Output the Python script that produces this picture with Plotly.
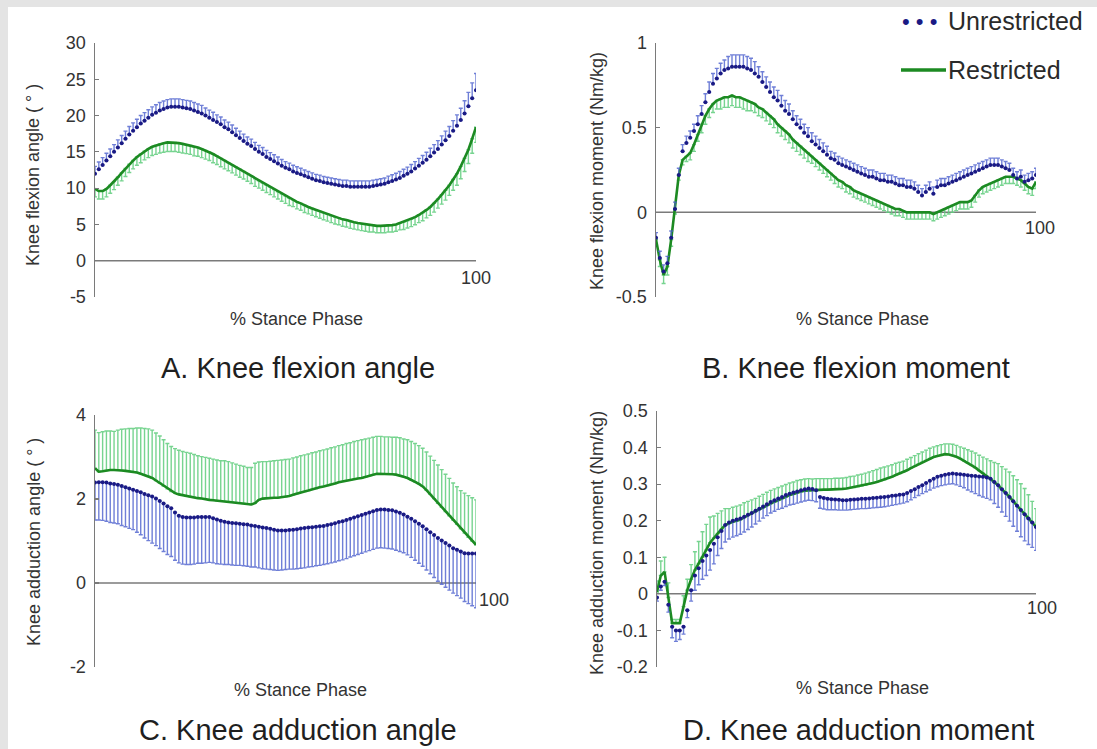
import plotly.graph_objects as go

# ---------------- data ----------------
pct = list(range(101))

# A. Knee flexion angle (deg)
fa_unres = [12.0, 12.6, 13.2, 13.8, 14.4, 15.0, 15.6, 16.2, 16.8, 17.4, 17.9,
            18.4, 18.9, 19.3, 19.7, 20.1, 20.4, 20.7, 20.9, 21.1, 21.2,
            21.2, 21.2, 21.1, 21.0, 20.9, 20.7, 20.5, 20.3, 20.0, 19.7,
            19.4, 19.1, 18.8, 18.4, 18.1, 17.7, 17.3, 16.9, 16.5, 16.1,
            15.8, 15.4, 15.0, 14.7, 14.3, 14.0, 13.7, 13.4, 13.1, 12.8,
            12.6, 12.3, 12.1, 11.9, 11.7, 11.5, 11.3, 11.1, 11.0, 10.8,
            10.7, 10.6, 10.5, 10.4, 10.3, 10.3, 10.2, 10.2, 10.2, 10.2,
            10.2, 10.2, 10.3, 10.4, 10.5, 10.6, 10.8, 11.0, 11.2, 11.4,
            11.7, 12.0, 12.3, 12.7, 13.1, 13.5, 13.9, 14.4, 14.9, 15.4,
            16.0, 16.6, 17.2, 17.9, 18.6, 19.4, 20.3, 21.3, 22.4, 23.5]
fa_unres_sd = [1.0, 1.0, 1.0, 1.0, 1.0, 1.0, 1.05, 1.05, 1.05, 1.1, 1.1,
               1.1, 1.1, 1.1, 1.1, 1.1, 1.1, 1.1, 1.1, 1.1, 1.1,
               1.1, 1.1, 1.1, 1.1, 1.1, 1.1, 1.1, 1.1, 1.05, 1.05,
               1.05, 1.0, 1.0, 1.0, 1.0, 1.0, 0.95, 0.95, 0.95, 0.95,
               0.95, 0.9, 0.9, 0.9, 0.9, 0.9, 0.9, 0.9, 0.85, 0.85,
               0.85, 0.85, 0.85, 0.85, 0.8, 0.8, 0.8, 0.8, 0.8, 0.8,
               0.8, 0.8, 0.8, 0.8, 0.8, 0.8, 0.8, 0.8, 0.8, 0.8,
               0.8, 0.8, 0.8, 0.8, 0.8, 0.8, 0.85, 0.85, 0.85, 0.9,
               0.9, 0.9, 0.95, 0.95, 1.0, 1.0, 1.05, 1.1, 1.1, 1.15,
               1.2, 1.25, 1.3, 1.4, 1.5, 1.6, 1.75, 1.9, 2.1, 2.3]
fa_res = [9.9, 9.6, 9.6, 9.9, 10.4, 10.9, 11.5, 12.1, 12.7, 13.3, 13.8,
          14.3, 14.7, 15.1, 15.4, 15.7, 15.9, 16.1, 16.2, 16.3, 16.3,
          16.3, 16.2, 16.1, 16.0, 15.9, 15.7, 15.6, 15.4, 15.2, 15.0,
          14.7, 14.4, 14.1, 13.8, 13.5, 13.2, 12.9, 12.6, 12.3, 12.0,
          11.7, 11.3, 11.0, 10.7, 10.4, 10.1, 9.8, 9.5, 9.2, 8.9,
          8.6, 8.4, 8.1, 7.9, 7.6, 7.4, 7.2, 7.0, 6.8, 6.6,
          6.4, 6.2, 6.0, 5.9, 5.7, 5.6, 5.4, 5.3, 5.2, 5.1,
          5.0, 4.9, 4.9, 4.8, 4.8, 4.8, 4.9, 4.9, 5.0, 5.2,
          5.3, 5.5, 5.7, 6.0, 6.3, 6.6, 7.0, 7.4, 7.9, 8.5,
          9.1, 9.7, 10.4, 11.2, 12.0, 13.0, 14.1, 15.3, 16.8, 18.4]
fa_res_sd = [1.1, 1.1, 1.1, 1.1, 1.1, 1.1, 1.1, 1.1, 1.1, 1.15, 1.15,
             1.15, 1.2, 1.2, 1.2, 1.2, 1.25, 1.25, 1.25, 1.25, 1.25,
             1.25, 1.25, 1.25, 1.25, 1.25, 1.25, 1.2, 1.2, 1.2, 1.2,
             1.2, 1.15, 1.15, 1.15, 1.1, 1.1, 1.1, 1.1, 1.05, 1.05,
             1.05, 1.05, 1.0, 1.0, 1.0, 1.0, 1.0, 1.0, 1.0, 1.0,
             1.0, 0.95, 0.95, 0.95, 0.95, 0.95, 0.95, 0.95, 0.95, 0.95,
             0.95, 0.95, 0.95, 0.95, 0.95, 0.95, 0.95, 0.95, 0.95, 0.95,
             0.95, 0.95, 0.95, 0.95, 0.95, 0.95, 0.95, 0.95, 0.95, 0.95,
             1.0, 1.0, 1.0, 1.05, 1.05, 1.1, 1.1, 1.15, 1.2, 1.25,
             1.3, 1.35, 1.4, 1.5, 1.6, 1.7, 1.8, 1.9, 2.0, 2.1]

# B. Knee flexion moment (Nm/kg)
fm_unres = [-0.15, -0.27, -0.35, -0.30, -0.15, 0.02, 0.22, 0.36, 0.41, 0.44, 0.48,
            0.52, 0.58, 0.65, 0.71, 0.76, 0.79, 0.82, 0.84, 0.85, 0.86,
            0.86, 0.86, 0.86, 0.85, 0.84, 0.82, 0.80, 0.77, 0.74, 0.71,
            0.68, 0.66, 0.63, 0.60, 0.58, 0.55, 0.52, 0.50, 0.47, 0.45,
            0.42, 0.40, 0.38, 0.36, 0.34, 0.32, 0.31, 0.29, 0.28, 0.27,
            0.26, 0.25, 0.24, 0.23, 0.22, 0.21, 0.21, 0.20, 0.19, 0.19,
            0.18, 0.18, 0.17, 0.16, 0.16, 0.15, 0.15, 0.14, 0.12, 0.10,
            0.12, 0.14, 0.11, 0.15, 0.16, 0.16, 0.17, 0.18, 0.19, 0.20,
            0.21, 0.22, 0.23, 0.24, 0.25, 0.26, 0.27, 0.28, 0.28, 0.28,
            0.27, 0.26, 0.25, 0.22, 0.20, 0.21, 0.18, 0.19, 0.20, 0.22]
fm_unres_sd = [0.03, 0.04, 0.04, 0.04, 0.04, 0.04, 0.04, 0.04, 0.04, 0.04, 0.04,
               0.05, 0.05, 0.05, 0.06, 0.06, 0.06, 0.06, 0.06, 0.07, 0.07,
               0.07, 0.07, 0.07, 0.07, 0.07, 0.07, 0.06, 0.06, 0.06, 0.06,
               0.06, 0.06, 0.06, 0.06, 0.06, 0.05, 0.05, 0.05, 0.05, 0.05,
               0.05, 0.05, 0.05, 0.05, 0.05, 0.04, 0.04, 0.04, 0.04, 0.04,
               0.04, 0.04, 0.04, 0.04, 0.04, 0.04, 0.04, 0.04, 0.04, 0.04,
               0.04, 0.04, 0.04, 0.04, 0.04, 0.04, 0.04, 0.04, 0.04, 0.04,
               0.04, 0.04, 0.04, 0.04, 0.04, 0.04, 0.04, 0.04, 0.04, 0.04,
               0.04, 0.04, 0.04, 0.04, 0.04, 0.04, 0.04, 0.04, 0.04, 0.04,
               0.04, 0.04, 0.04, 0.04, 0.04, 0.04, 0.04, 0.04, 0.04, 0.04]
fm_res = [-0.16, -0.28, -0.37, -0.32, -0.16, 0.02, 0.22, 0.31, 0.33, 0.35, 0.40,
          0.46, 0.52, 0.57, 0.61, 0.64, 0.66, 0.67, 0.68, 0.68, 0.69,
          0.68, 0.68, 0.67, 0.66, 0.65, 0.64, 0.62, 0.61, 0.59, 0.57,
          0.55, 0.52, 0.50, 0.48, 0.46, 0.43, 0.41, 0.39, 0.37, 0.35,
          0.33, 0.31, 0.29, 0.27, 0.25, 0.23, 0.21, 0.19, 0.18, 0.16,
          0.15, 0.13, 0.12, 0.11, 0.10, 0.09, 0.08, 0.07, 0.06, 0.05,
          0.04, 0.03, 0.02, 0.02, 0.01, 0.00, 0.00, 0.00, 0.00, 0.00,
          0.00, 0.00, -0.01, 0.00, 0.01, 0.02, 0.03, 0.04, 0.05, 0.06,
          0.06, 0.06, 0.07, 0.10, 0.13, 0.15, 0.16, 0.17, 0.18, 0.19,
          0.20, 0.21, 0.21, 0.21, 0.20, 0.19, 0.17, 0.15, 0.14, 0.18]
fm_res_sd = [0.03, 0.04, 0.05, 0.05, 0.04, 0.03, 0.03, 0.03, 0.03, 0.04, 0.04,
             0.04, 0.05, 0.05, 0.05, 0.05, 0.05, 0.06, 0.06, 0.06, 0.06,
             0.06, 0.06, 0.06, 0.06, 0.05, 0.05, 0.05, 0.05, 0.05, 0.05,
             0.05, 0.05, 0.05, 0.05, 0.05, 0.05, 0.05, 0.05, 0.05, 0.05,
             0.04, 0.04, 0.04, 0.04, 0.04, 0.04, 0.04, 0.04, 0.04, 0.04,
             0.04, 0.04, 0.04, 0.04, 0.04, 0.04, 0.04, 0.04, 0.04, 0.04,
             0.04, 0.04, 0.04, 0.04, 0.04, 0.04, 0.04, 0.04, 0.04, 0.04,
             0.04, 0.04, 0.04, 0.04, 0.04, 0.04, 0.04, 0.04, 0.04, 0.04,
             0.04, 0.04, 0.04, 0.04, 0.04, 0.04, 0.04, 0.04, 0.04, 0.04,
             0.04, 0.04, 0.04, 0.04, 0.04, 0.04, 0.04, 0.04, 0.04, 0.04]

# C. Knee adduction angle (deg)
aa_unres = [2.39, 2.40, 2.40, 2.39, 2.37, 2.36, 2.34, 2.31, 2.28, 2.25, 2.22,
            2.19, 2.16, 2.12, 2.09, 2.06, 2.01, 1.95, 1.89, 1.83, 1.78,
            1.68, 1.60, 1.57, 1.56, 1.56, 1.56, 1.57, 1.57, 1.57, 1.57,
            1.54, 1.51, 1.48, 1.46, 1.44, 1.43, 1.42, 1.41, 1.40, 1.39,
            1.37, 1.36, 1.34, 1.32, 1.31, 1.29, 1.27, 1.25, 1.25, 1.25,
            1.26, 1.27, 1.28, 1.30, 1.31, 1.32, 1.33, 1.34, 1.35, 1.36,
            1.38, 1.40, 1.42, 1.45, 1.47, 1.50, 1.53, 1.56, 1.59, 1.62,
            1.65, 1.68, 1.71, 1.74, 1.75, 1.75, 1.74, 1.73, 1.70, 1.67,
            1.63, 1.58, 1.53, 1.47, 1.41, 1.35, 1.28, 1.21, 1.14, 1.07,
            1.01, 0.95, 0.89, 0.83, 0.79, 0.75, 0.71, 0.70, 0.70, 0.70]
aa_unres_sd = [0.89, 0.90, 0.91, 0.92, 0.93, 0.93, 0.93, 0.94, 0.94, 0.95, 0.95,
               0.98, 1.01, 1.05, 1.08, 1.11, 1.12, 1.13, 1.14, 1.15, 1.15,
               1.14, 1.12, 1.12, 1.12, 1.12, 1.11, 1.10, 1.10, 1.09, 1.08,
               1.06, 1.05, 1.03, 1.02, 1.00, 1.00, 1.00, 0.99, 0.99, 0.99,
               0.99, 0.98, 0.98, 0.98, 0.98, 0.97, 0.96, 0.95, 0.94, 0.93,
               0.93, 0.94, 0.94, 0.95, 0.95, 0.94, 0.94, 0.93, 0.93, 0.92,
               0.92, 0.92, 0.92, 0.92, 0.92, 0.92, 0.91, 0.91, 0.91, 0.91,
               0.91, 0.91, 0.91, 0.91, 0.91, 0.92, 0.92, 0.92, 0.92, 0.92,
               0.91, 0.91, 0.92, 0.93, 0.94, 0.95, 0.97, 0.99, 1.01, 1.03,
               1.04, 1.05, 1.06, 1.07, 1.09, 1.11, 1.15, 1.19, 1.24, 1.29]
aa_res = [2.73, 2.65, 2.66, 2.68, 2.69, 2.69, 2.69, 2.68, 2.67, 2.66, 2.65,
          2.63, 2.60, 2.57, 2.54, 2.50, 2.44, 2.38, 2.31, 2.24, 2.18,
          2.14, 2.11, 2.09, 2.07, 2.06, 2.04, 2.02, 2.01, 1.99, 1.98,
          1.97, 1.96, 1.95, 1.95, 1.94, 1.93, 1.92, 1.91, 1.90, 1.88,
          1.87, 1.90, 1.98, 2.01, 2.02, 2.02, 2.03, 2.03, 2.04, 2.05,
          2.07, 2.10, 2.13, 2.16, 2.18, 2.20, 2.23, 2.25, 2.28, 2.30,
          2.32, 2.35, 2.37, 2.40, 2.42, 2.44, 2.45, 2.47, 2.49, 2.50,
          2.53, 2.55, 2.58, 2.60, 2.60, 2.60, 2.60, 2.59, 2.58, 2.56,
          2.53, 2.50, 2.46, 2.41, 2.36, 2.30, 2.21, 2.11, 2.01, 1.90,
          1.80, 1.70, 1.60, 1.50, 1.40, 1.29, 1.19, 1.09, 1.00, 0.91]
aa_res_sd = [0.91, 0.93, 0.94, 0.94, 0.93, 0.92, 0.95, 0.98, 1.00, 1.02, 1.03,
             1.06, 1.09, 1.11, 1.13, 1.14, 1.13, 1.12, 1.10, 1.08, 1.07,
             1.06, 1.05, 1.04, 1.04, 1.03, 1.02, 1.01, 1.00, 1.00, 0.99,
             0.98, 0.97, 0.96, 0.96, 0.95, 0.93, 0.91, 0.89, 0.88, 0.87,
             0.88, 0.95, 0.90, 0.88, 0.87, 0.88, 0.88, 0.89, 0.89, 0.89,
             0.88, 0.88, 0.87, 0.87, 0.87, 0.87, 0.87, 0.87, 0.87, 0.87,
             0.87, 0.87, 0.87, 0.87, 0.87, 0.88, 0.89, 0.90, 0.90, 0.91,
             0.90, 0.90, 0.89, 0.89, 0.89, 0.88, 0.88, 0.88, 0.89, 0.90,
             0.90, 0.91, 0.91, 0.91, 0.91, 0.91, 0.91, 0.91, 0.91, 0.91,
             0.90, 0.89, 0.89, 0.88, 0.89, 0.91, 0.95, 0.99, 1.03, 1.07]

# D. Knee adduction moment (Nm/kg)
am_unres = [-0.01, 0.02, 0.033, -0.03, -0.09, -0.10, -0.10, -0.09, -0.045, 0.01, 0.05,
            0.07, 0.09, 0.105, 0.12, 0.137, 0.155, 0.172, 0.188, 0.195, 0.200,
            0.203, 0.206, 0.211, 0.216, 0.221, 0.227, 0.233, 0.239, 0.245, 0.251,
            0.256, 0.261, 0.265, 0.270, 0.274, 0.277, 0.280, 0.283, 0.286, 0.288,
            0.287, 0.283, 0.265, 0.262, 0.260, 0.259, 0.258, 0.257, 0.256, 0.256,
            0.257, 0.258, 0.259, 0.260, 0.260, 0.261, 0.262, 0.263, 0.264, 0.265,
            0.266, 0.268, 0.269, 0.271, 0.272, 0.276, 0.281, 0.286, 0.292, 0.297,
            0.303, 0.309, 0.315, 0.320, 0.323, 0.326, 0.328, 0.329, 0.328, 0.327,
            0.326, 0.324, 0.323, 0.322, 0.321, 0.320, 0.318, 0.315, 0.306, 0.297,
            0.286, 0.276, 0.265, 0.253, 0.241, 0.229, 0.218, 0.206, 0.195, 0.183]
am_unres_sd = [0.01, 0.01, 0.01, 0.02, 0.03, 0.03, 0.025, 0.02, 0.02, 0.03, 0.04,
               0.045, 0.05, 0.055, 0.055, 0.055, 0.05, 0.048, 0.046, 0.045, 0.045,
               0.044, 0.043, 0.042, 0.040, 0.038, 0.036, 0.034, 0.032, 0.031, 0.030,
               0.030, 0.030, 0.031, 0.031, 0.031, 0.032, 0.032, 0.032, 0.032, 0.032,
               0.032, 0.031, 0.031, 0.030, 0.030, 0.029, 0.028, 0.028, 0.027, 0.027,
               0.027, 0.027, 0.027, 0.027, 0.027, 0.027, 0.027, 0.027, 0.027, 0.027,
               0.026, 0.026, 0.025, 0.025, 0.024, 0.024, 0.024, 0.023, 0.023, 0.023,
               0.024, 0.025, 0.026, 0.027, 0.027, 0.028, 0.028, 0.028, 0.030, 0.033,
               0.036, 0.040, 0.044, 0.048, 0.052, 0.055, 0.057, 0.058, 0.059, 0.060,
               0.062, 0.064, 0.066, 0.068, 0.070, 0.073, 0.073, 0.071, 0.068, 0.064]
am_res = [0.005, 0.05, 0.06, -0.01, -0.08, -0.08, -0.08, -0.035, 0.01, 0.04, 0.065,
          0.083, 0.10, 0.12, 0.14, 0.153, 0.165, 0.177, 0.188, 0.193, 0.197,
          0.200, 0.203, 0.209, 0.215, 0.220, 0.225, 0.231, 0.236, 0.242, 0.247,
          0.252, 0.256, 0.261, 0.265, 0.270, 0.273, 0.277, 0.280, 0.282, 0.283,
          0.283, 0.284, 0.284, 0.285, 0.285, 0.285, 0.286, 0.286, 0.287, 0.288,
          0.290, 0.291, 0.293, 0.295, 0.297, 0.300, 0.303, 0.306, 0.309, 0.312,
          0.316, 0.320, 0.325, 0.329, 0.333, 0.338, 0.344, 0.349, 0.355, 0.360,
          0.365, 0.370, 0.374, 0.377, 0.380, 0.382, 0.381, 0.379, 0.375, 0.370,
          0.364, 0.358, 0.352, 0.345, 0.337, 0.330, 0.322, 0.314, 0.305, 0.297,
          0.286, 0.276, 0.265, 0.253, 0.241, 0.229, 0.218, 0.206, 0.195, 0.183]
am_res_sd = [0.03, 0.04, 0.04, 0.04, 0.01, 0.01, 0.01, 0.03, 0.03, 0.04, 0.05,
             0.06, 0.07, 0.07, 0.07, 0.06, 0.055, 0.05, 0.045, 0.04, 0.04,
             0.04, 0.04, 0.04, 0.038, 0.037, 0.036, 0.036, 0.036, 0.036, 0.036,
             0.035, 0.035, 0.034, 0.034, 0.033, 0.033, 0.033, 0.032, 0.032, 0.032,
             0.031, 0.031, 0.031, 0.030, 0.030, 0.030, 0.030, 0.030, 0.030, 0.030,
             0.031, 0.031, 0.032, 0.032, 0.033, 0.033, 0.034, 0.034, 0.035, 0.035,
             0.034, 0.033, 0.032, 0.031, 0.030, 0.030, 0.029, 0.029, 0.028, 0.028,
             0.028, 0.028, 0.028, 0.028, 0.028, 0.028, 0.029, 0.030, 0.031, 0.032,
             0.034, 0.036, 0.038, 0.040, 0.042, 0.044, 0.047, 0.050, 0.054, 0.059,
             0.062, 0.065, 0.068, 0.070, 0.071, 0.072, 0.070, 0.065, 0.058, 0.050]

# tick labels
ticks_a = [-5, 0, 5, 10, 15, 20, 25, 30]
ticks_b = [-0.5, 0, 0.5, 1]
ticks_c = [-2, 0, 2, 4]
ticks_d = [-0.2, -0.1, 0, 0.1, 0.2, 0.3, 0.4, 0.5]
ticktext_a = ["-5", "0", "5", "10", "15", "20", "25", "30"]
ticktext_b = ["-0.5", "0", "0.5", "1"]
ticktext_c = ["-2", "0", "2", "4"]
ticktext_d = ["-0.2", "-0.1", "0", "0.1", "0.2", "0.3", "0.4", "0.5"]

# ---------------- styling / layout ----------------
W, H = 1097, 749
FONT = "Liberation Sans, Arial, sans-serif"
NAVY = "#1a1a84"
BLUE_BAR = "rgba(75,95,205,0.8)"
GREEN = "#1c8a22"
GREEN_BAR = "rgba(95,205,125,0.85)"
AXIS = "#7a7a7a"
TXT = "#333333"


def fx(p):
    return p / W


def fy(p):
    return 1 - p / H


panels = [
    dict(n="", x0=95, x1=476, ytop=43, ybot=297, rng=[-5, 30], tv=ticks_a, tt=ticktext_a,
         unres=fa_unres, unres_sd=fa_unres_sd, res=fa_res, res_sd=fa_res_sd,
         unres_up=True, res_up=False,
         ytitle="Knee flexion angle ( \u00b0 )", yt_x=33, yt_y=175,
         xt_x=296, xt_y=319, pt="A. Knee flexion angle", pt_x=298, pt_y=368,
         l100=(0, -17)),
    dict(n="2", x0=656, x1=1036, ytop=43, ybot=297, rng=[-0.5, 1], tv=ticks_b, tt=ticktext_b,
         unres=fm_unres, unres_sd=fm_unres_sd, res=fm_res, res_sd=fm_res_sd,
         unres_up=True, res_up=False,
         ytitle="Knee flexion moment (Nm/kg)", yt_x=597, yt_y=171,
         xt_x=862, xt_y=319, pt="B. Knee flexion moment", pt_x=856, pt_y=368,
         l100=(4, -16)),
    dict(n="3", x0=95, x1=476, ytop=415, ybot=667, rng=[-2, 4], tv=ticks_c, tt=ticktext_c,
         unres=aa_unres, unres_sd=aa_unres_sd, res=aa_res, res_sd=aa_res_sd,
         unres_up=False, res_up=True,
         ytitle="Knee adduction angle ( \u00b0 )", yt_x=34, yt_y=542,
         xt_x=300, xt_y=690, pt="C. Knee adduction angle", pt_x=298, pt_y=730,
         l100=(18, -17)),
    dict(n="4", x0=657, x1=1036, ytop=411, ybot=667, rng=[-0.2, 0.5], tv=ticks_d, tt=ticktext_d,
         unres=am_unres, unres_sd=am_unres_sd, res=am_res, res_sd=am_res_sd,
         unres_up=False, res_up=True,
         ytitle="Knee adduction moment (Nm/kg)", yt_x=597, yt_y=543,
         xt_x=862, xt_y=688, pt="D. Knee adduction moment", pt_x=858, pt_y=730,
         l100=(6, -14)),
]

fig = go.Figure()
layout = dict(
    width=W, height=H, autosize=False, margin=dict(l=0, r=0, t=0, b=0, pad=0),
    paper_bgcolor="white", plot_bgcolor="white", showlegend=False,
    font=dict(family=FONT, color=TXT),
)
annotations = []
shapes = [
    dict(type="rect", xref="paper", yref="paper", x0=0, x1=1, y0=fy(7), y1=1,
         fillcolor="#e4e4e4", line=dict(width=0), layer="below"),
    dict(type="rect", xref="paper", yref="paper", x0=0, x1=fx(8), y0=0, y1=1,
         fillcolor="#e4e4e4", line=dict(width=0), layer="below"),
]

for p in panels:
    n = p["n"]
    xa, ya = "x" + n, "y" + n
    zeros = [0 for _ in pct]

    def err(sd, up, color):
        return dict(type="data", symmetric=False,
                    array=sd if up else zeros,
                    arrayminus=zeros if up else sd,
                    color=color, thickness=1.4, width=2)

    # restricted (green line + one-sided SD)
    fig.add_trace(go.Scatter(
        x=pct, y=p["res"], xaxis=xa, yaxis=ya, mode="lines",
        line=dict(color=GREEN, width=2.6),
        error_y=err(p["res_sd"], p["res_up"], GREEN_BAR),
        name="Restricted", hoverinfo="skip"))
    # unrestricted (navy dots + one-sided SD)
    fig.add_trace(go.Scatter(
        x=pct, y=p["unres"], xaxis=xa, yaxis=ya, mode="markers",
        marker=dict(color=NAVY, size=4),
        error_y=err(p["unres_sd"], p["unres_up"], BLUE_BAR),
        name="Unrestricted", hoverinfo="skip"))

    key_x = "xaxis" + n
    key_y = "yaxis" + n
    layout[key_x] = dict(domain=[fx(p["x0"]), fx(p["x1"])], range=[0, 100],
                         anchor=ya, visible=False, fixedrange=True)
    layout[key_y] = dict(domain=[fy(p["ybot"]), fy(p["ytop"])], range=p["rng"],
                         anchor=xa, showgrid=False, zeroline=False, automargin=False,
                         showline=True, linecolor=AXIS, linewidth=1.5,
                         ticks="inside", ticklen=4, tickwidth=1.2, tickcolor=AXIS,
                         tickvals=p["tv"], ticktext=p["tt"],
                         tickfont=dict(size=18, color=TXT, family=FONT),
                         ticklabelstandoff=4, fixedrange=True)
    # zero line (x axis)
    shapes.append(dict(type="line", xref=xa, yref=ya, x0=0, x1=100, y0=0, y1=0,
                       line=dict(color=AXIS, width=1.5), layer="below"))
    # "100" label at end of x axis
    annotations.append(dict(text="100", xref=xa, yref=ya, x=100, y=0,
                            xshift=p["l100"][0], yshift=p["l100"][1],
                            xanchor="center", yanchor="middle", showarrow=False,
                            font=dict(size=18, color=TXT, family=FONT)))
    # y axis title
    annotations.append(dict(text=p["ytitle"], xref="paper", yref="paper",
                            x=fx(p["yt_x"]), y=fy(p["yt_y"]), textangle=-90,
                            xanchor="center", yanchor="middle", showarrow=False,
                            font=dict(size=18, color=TXT, family=FONT)))
    # x axis title
    annotations.append(dict(text="% Stance Phase", xref="paper", yref="paper",
                            x=fx(p["xt_x"]), y=fy(p["xt_y"]),
                            xanchor="center", yanchor="middle", showarrow=False,
                            font=dict(size=18, color=TXT, family=FONT)))
    # panel title
    annotations.append(dict(text=p["pt"], xref="paper", yref="paper",
                            x=fx(p["pt_x"]), y=fy(p["pt_y"]),
                            xanchor="center", yanchor="middle", showarrow=False,
                            font=dict(size=29, color="#1f1f1f", family=FONT)))

# manual legend (top right)
annotations.append(dict(text="\u2022 \u2022 \u2022", xref="paper", yref="paper",
                        x=fx(900), y=fy(21), xanchor="left", yanchor="middle",
                        showarrow=False, font=dict(size=22, color=NAVY, family=FONT)))
annotations.append(dict(text="Unrestricted", xref="paper", yref="paper",
                        x=fx(946), y=fy(21), xanchor="left", yanchor="middle",
                        showarrow=False, font=dict(size=25, color="#2a2a2a", family=FONT)))
shapes.append(dict(type="line", xref="paper", yref="paper",
                   x0=fx(901), x1=fx(946), y0=fy(70), y1=fy(70),
                   line=dict(color=GREEN, width=3.5)))
annotations.append(dict(text="Restricted", xref="paper", yref="paper",
                        x=fx(946), y=fy(70), xanchor="left", yanchor="middle",
                        showarrow=False, font=dict(size=25, color="#2a2a2a", family=FONT)))

layout["annotations"] = annotations
layout["shapes"] = shapes
fig.update_layout(**layout)
fig.write_html(
    "out.html",
    config={"displayModeBar": False, "staticPlot": True},
    post_script="document.body.style.margin='0';document.body.style.padding='0';"
                "document.body.style.overflow='hidden';",
)
